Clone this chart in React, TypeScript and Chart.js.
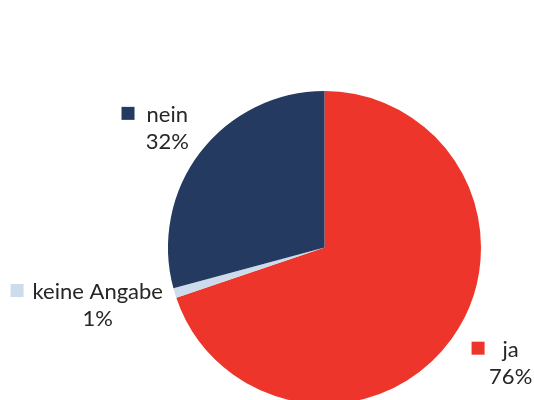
import React, { useEffect, useRef } from "react";
import { Chart, registerables } from "chart.js";

Chart.register(...registerables);

const categories = ["ja", "keine Angabe", "nein"];
const values = [69.8, 1.0, 29.2];
const percentLabels = ["76%", "1%", "32%"];
const colors = ["#EE352B", "#CCDCEC", "#243A60"];

const labelPlugin = {
  id: "pieLabels",
  afterDraw(chart: any, _args: any, opts: any) {
    const ctx = chart.ctx;
    const meta = chart.getDatasetMeta(0);
    const offsets = opts.offsets || [];
    ctx.save();
    ctx.font = "22px Lato, 'Open Sans', sans-serif";
    ctx.fillStyle = "#262626";
    ctx.textBaseline = "middle";
    ctx.textAlign = "center";
    meta.data.forEach((arc: any, i: number) => {
      const p = arc.getProps(["x", "y", "startAngle", "endAngle", "outerRadius"], true);
      const mid = (p.startAngle + p.endAngle) / 2;
      const ax = p.x + Math.cos(mid) * p.outerRadius;
      const ay = p.y + Math.sin(mid) * p.outerRadius;
      const off = offsets[i] || [0, 0];
      const cx = ax + off[0];
      const cy = ay + off[1];
      const name = chart.data.labels[i];
      const w = ctx.measureText(name).width;
      ctx.fillStyle = "#262626";
      ctx.fillText(name, cx, cy);
      ctx.fillText(percentLabels[i], cx, cy + 27);
      ctx.fillStyle = colors[i];
      const sq = 13;
      const gap = off[2] ?? 11;
      ctx.fillRect(cx - w / 2 - gap - sq, cy - 1.5 - sq / 2, sq, sq);
    });
    ctx.restore();
  },
};

export default function App() {
  const ref = useRef<HTMLCanvasElement>(null);
  useEffect(() => {
    document.body.style.margin = "0";
    const chart = new Chart(ref.current!, {
      type: "pie",
      data: {
        labels: categories,
        datasets: [
          {
            data: values,
            backgroundColor: colors,
            borderWidth: 0,
          },
        ],
      },
      options: {
        responsive: false,
        animation: false,
        devicePixelRatio: 1,
        layout: { padding: { left: 168, right: 53, top: 91, bottom: 0 } },
        plugins: {
          legend: { display: false },
          tooltip: { enabled: false },
          pieLabels: { offsets: [[59, 11, 18], [-77, -1, 9], [-33, -37.5, 12]] },
        } as any,
      },
      plugins: [labelPlugin],
    });
    return () => chart.destroy();
  }, []);
  return (
    <div style={{ width: 534, height: 400, overflow: "hidden", background: "#fff" }}>
      <canvas ref={ref} width={534} height={404} style={{ display: "block" }} />
    </div>
  );
}
